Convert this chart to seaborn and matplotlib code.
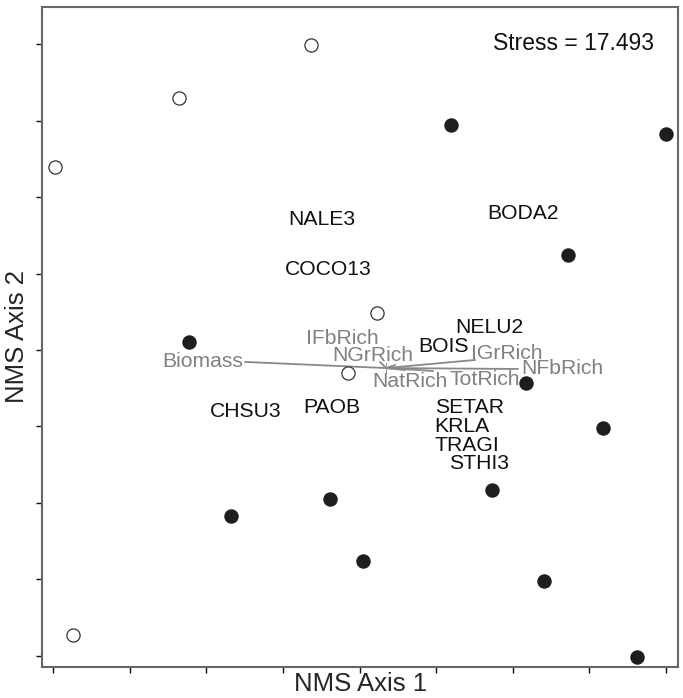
import numpy as np
import pandas as pd
import seaborn as sns
import matplotlib
matplotlib.use("Agg")
import matplotlib.pyplot as plt

# plot scores (NMS axis 1, axis 2)
open_x = [-0.316, -1.178, -1.987, 0.114, -0.075, -1.870]
open_y = [1.993, 1.647, 1.196, 0.242, -0.150, -1.863]
filled_x = [0.597, 2.000, 1.361, -1.113, 1.086, 1.589, 0.865, -0.192, -0.838, 0.023, 1.204, 1.811]
filled_y = [1.471, 1.412, 0.621, 0.052, -0.216, -0.510, -0.915, -0.974, -1.085, -1.379, -1.510, -2.007]

# species scores
species = ["NALE3", "BODA2", "COCO13", "NELU2", "BOIS", "CHSU3", "PAOB",
           "SETAR", "KRLA", "TRAGI", "STHI3"]
species_x = [-0.245, 1.067, -0.206, 0.845, 0.545, -0.741, -0.179, 0.715, 0.669, 0.702, 0.780]
species_y = [0.850, 0.895, 0.523, 0.144, 0.020, -0.405, -0.373, -0.373, -0.503, -0.621, -0.739]

# joint plot vectors (origin, tips and label spots)
vec_origin = (0.173, -0.118)
vectors = ["Biomass", "IFbRich", "NGrRich", "IGrRich", "NFbRich", "NatRich", "TotRich"]
vec_x = [-0.747, 0.134, 0.232, 0.754, 1.034, 0.297, 0.480]
vec_y = [-0.078, -0.078, -0.098, -0.065, -0.124, -0.131, -0.137]
vec_lab_x = [-1.021, -0.114, 0.088, 0.962, 1.325, 0.330, 0.818]
vec_lab_y = [-0.078, 0.078, -0.039, -0.020, -0.124, -0.209, -0.196]

stress = 17.493

sns.set_style("white")
plt.rcParams["font.family"] = ["Liberation Sans", "DejaVu Sans"]

df = pd.DataFrame({
    "x": open_x + filled_x,
    "y": open_y + filled_y,
    "group": ["open"] * len(open_x) + ["filled"] * len(filled_x),
})

fig = plt.figure(figsize=(6.83, 6.98), dpi=100)
ax = fig.add_axes([0.0622, 0.0444, 0.9305, 0.9456])

# vectors first so points sit on top
for vx, vy in zip(vec_x, vec_y):
    ax.plot([vec_origin[0], vx], [vec_origin[1], vy], color="#888888", lw=1.3, zorder=2)
ax.plot([vec_origin[0]] * 2, [vec_origin[1] - 0.03, vec_origin[1] + 0.03],
        color="#999999", lw=0.8, zorder=2)

sns.scatterplot(data=df[df.group == "open"], x="x", y="y", ax=ax, s=90,
                color="white", edgecolor="#333333", linewidth=0.9, zorder=3, legend=False)
sns.scatterplot(data=df[df.group == "filled"], x="x", y="y", ax=ax, s=90,
                color="#1e1e1e", edgecolor="#1e1e1e", linewidth=0.9, zorder=3, legend=False)

for name, sx, sy in zip(species, species_x, species_y):
    ax.text(sx, sy, name, ha="center", va="center", fontsize=15.2, color="#111111", zorder=4)

for name, lx, ly in zip(vectors, vec_lab_x, vec_lab_y):
    ax.text(lx, ly, name, ha="center", va="center", fontsize=15.2, color="#808080", zorder=4)

ax.text(0.962, 0.945, f"Stress = {stress}", transform=ax.transAxes,
        ha="right", va="center", fontsize=16.5, color="#111111")

ax.set_xlim(-2.0685, 2.078)
ax.set_ylim(-2.072, 2.242)
ax.set_xticks(np.arange(-2, 2.01, 0.5))
ax.set_yticks(np.arange(-2, 2.01, 0.5))
ax.set_xticklabels([])
ax.set_yticklabels([])
ax.tick_params(direction="out", length=4, width=1, color="#111111",
               bottom=True, left=True)
for sp in ax.spines.values():
    sp.set_color("#666666")
    sp.set_linewidth(1.5)

ax.set_xlabel("NMS Axis 1", fontsize=18.5, labelpad=-4)
ax.set_ylabel("NMS Axis 2", fontsize=18.5, labelpad=2)

fig.savefig("out.png", dpi=100)
